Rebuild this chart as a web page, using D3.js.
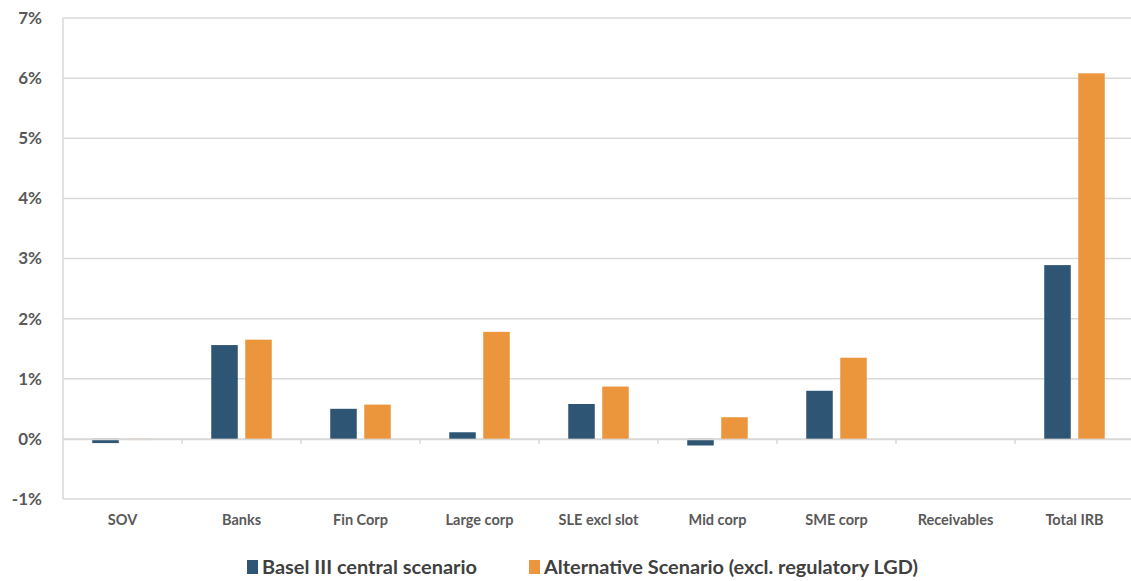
<!DOCTYPE html>
<html><head><meta charset="utf-8">
<script src="https://cdn.jsdelivr.net/npm/d3@7"></script>
<style>body{margin:0;background:#fff}svg{display:block}text{font-family:Lato,"Open Sans",sans-serif}</style>
</head><body>
<svg id="c" width="1131" height="581"></svg>
<script>
const categories = ["SOV","Banks","Fin Corp","Large corp","SLE excl slot","Mid corp","SME corp","Receivables","Total IRB"];
const baselIII = [-0.07,1.56,0.50,0.11,0.58,-0.11,0.80,0,2.89];
const alternative = [-0.02,1.65,0.57,1.78,0.87,0.36,1.35,0,6.08];
const seriesNames = ["Basel III central scenario","Alternative Scenario (excl. regulatory LGD)"];
const yTicks = [-1,0,1,2,3,4,5,6,7];
const colors = ["#2E5573","#EB963D"];

const svg = d3.select("#c");
const L = 63, R = 1134, T = 18, B = 499;
const x = d3.scaleBand().domain(categories).range([L,R]).paddingInner(0).paddingOuter(0);
const y = d3.scaleLinear().domain([-1,7]).range([B,T]);
const inner = d3.scaleBand().domain([0,1]).range([0,x.bandwidth()]).paddingInner(0.22).paddingOuter(0.86);

// gridlines
svg.append("g").selectAll("line").data(yTicks).join("line")
  .attr("x1",L).attr("x2",R).attr("y1",d=>y(d)).attr("y2",d=>y(d))
  .attr("stroke","#d9d9d9").attr("stroke-width",1.5);
// left axis line
svg.append("line").attr("x1",L).attr("x2",L).attr("y1",T).attr("y2",B).attr("stroke","#d9d9d9").attr("stroke-width",1.5);

// y labels
const yAxis = d3.axisLeft(y).tickValues(yTicks).tickFormat(d=>d+"%").tickSize(0).tickPadding(21);
const ya = svg.append("g").attr("transform",`translate(${L},0)`).call(yAxis);
ya.select(".domain").remove();
ya.selectAll("text").attr("fill","#595959").attr("font-size",17).attr("font-weight","bold").style("font-family","Lato");

// bars
const data = categories.map((c,i)=>({c, v:[baselIII[i],alternative[i]]}));
const g = svg.append("g");
data.forEach(d=>{
  d.v.forEach((v,k)=>{
    g.append("rect")
      .attr("x", x(d.c)+inner(k))
      .attr("width", inner.bandwidth())
      .attr("y", y(Math.max(0,v)))
      .attr("height", Math.abs(y(v)-y(0)))
      .attr("fill", colors[k]);
  });
});

// category axis at zero
const xAxis = d3.axisBottom(x).tickSize(0).tickFormat("");
const xa = svg.append("g").attr("transform",`translate(0,${y(0)})`).call(xAxis);
xa.select(".domain").attr("stroke","#d9d9d9").attr("stroke-width",1.5);
svg.append("g").selectAll("line").data(categories.slice(1)).join("line")
  .attr("x1",d=>x(d)).attr("x2",d=>x(d)).attr("y1",y(0)).attr("y2",y(0)+5)
  .attr("stroke","#d9d9d9").attr("stroke-width",1.5);

// category labels
svg.append("g").selectAll("text").data(categories).join("text")
  .attr("x",d=>x(d)+x.bandwidth()/2).attr("y",525)
  .attr("text-anchor","middle").attr("fill","#595959").attr("font-size",14.5).attr("font-weight","bold")
  .text(d=>d);

// legend
const legX = [247, 529];
const legW = [215, 374];
seriesNames.forEach((n,k)=>{
  svg.append("rect").attr("x",legX[k]).attr("y",560).attr("width",11).attr("height",14).attr("fill",colors[k]);
  svg.append("text").attr("x",legX[k]+15).attr("y",574).attr("fill","#404040").attr("font-size",19).attr("font-weight","bold")
    .attr("textLength",legW[k]).attr("lengthAdjust","spacingAndGlyphs").text(n);
});
</script>
</body></html>
